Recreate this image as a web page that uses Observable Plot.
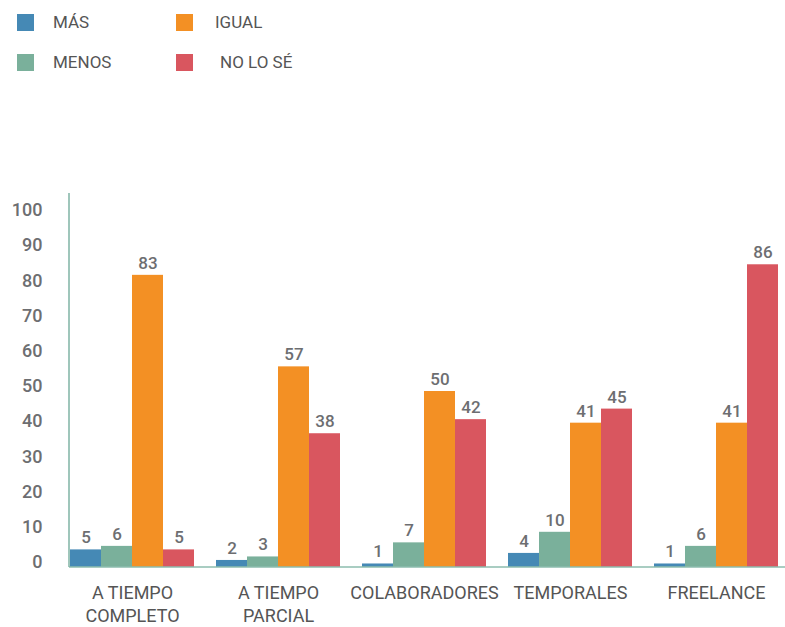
<!DOCTYPE html>
<html><head><meta charset="utf-8">
<script src="https://cdn.jsdelivr.net/npm/d3@7"></script>
<script src="https://cdn.jsdelivr.net/npm/@observablehq/plot@0.6"></script>
<style>
body{margin:0;background:#fff;font-family:Roboto, sans-serif;}
#legend{position:relative;height:90px;width:785px;}
.item{position:absolute;display:flex;align-items:center;font-size:17px;color:#555;height:18px;}
.sw{width:17px;height:17px;margin-right:19px;flex:none;}
</style></head><body><div id="legend"></div><div id="chart"></div>
<script>
const categories = ["A TIEMPO COMPLETO", "A TIEMPO PARCIAL", "COLABORADORES", "TEMPORALES", "FREELANCE"];
const categoryLabels = ["A TIEMPO\nCOMPLETO", "A TIEMPO\nPARCIAL", "COLABORADORES", "TEMPORALES", "FREELANCE"];
const series = ["MÁS", "MENOS", "IGUAL", "NO LO SÉ"];
const colors = ["#4589b5", "#7ab09b", "#f39024", "#d9565f"];
const mas = [5, 2, 1, 4, 1];
const menos = [6, 3, 7, 10, 6];
const igual = [83, 57, 50, 41, 41];
const noLoSe = [5, 38, 42, 45, 86];
const yTicks = [0, 10, 20, 30, 40, 50, 60, 70, 80, 90, 100];

const values = [mas, menos, igual, noLoSe];
const data = categories.flatMap((c, i) => series.map((s, j) => ({category: c, series: s, value: values[j][i]})));

// legend
const legend = d3.select("#legend");
series.forEach((s, j) => {
  const it = legend.append("div").attr("class", "item")
    .style("left", (17 + 159 * Math.floor(j / 2)) + "px")
    .style("top", (13 + 40 * (j % 2)) + "px");
  it.append("div").attr("class", "sw").style("background", colors[j])
    .style("margin-right", (j === 2 ? 22 : j === 3 ? 27 : 19) + "px");
  it.append("span").text(s);
});

const chart = Plot.plot({
  width: 785, height: 537,
  marginLeft: 67, marginRight: 4, marginTop: 103, marginBottom: 60,
  fx: {domain: categories, paddingInner: 0.139, paddingOuter: 0, label: null, axis: null},
  x: {domain: series, paddingInner: 0, paddingOuter: 0, axis: null},
  y: {domain: [0, 106.25], axis: null},
  color: {domain: series, range: colors},
  style: {fontFamily: "Roboto, sans-serif", background: "white", overflow: "visible"},
  marks: [
    Plot.barY(data, {fx: "category", x: "series", y: "value", fill: "series"}),
    Plot.text(data, {fx: "category", x: "series", y: "value", text: d => String(d.value), dy: -12, fontSize: 17, fontWeight: 500, fill: "#6d6e71"}),
    Plot.axisFx({anchor: "bottom", tickSize: 0, tickPadding: 16, fontSize: 18, fill: "#555", tickFormat: c => categoryLabels[categories.indexOf(c)], lineHeight: 1.25, label: null}),
    Plot.axisY({ticks: yTicks, tickSize: 0, tickPadding: 27, fontSize: 18, fontWeight: 500, fill: "#6d6e71", label: null, dy: -5})
  ]
});
document.getElementById("chart").appendChild(chart);

// axis lines drawn from the plot's own scales
const fxS = chart.scale("fx"), yS = chart.scale("y");
const svg = d3.select(chart);
const x0 = fxS.apply(categories[0]);
const yBase = yS.apply(0), yTop = yS.apply(yS.domain[1]);
svg.append("line").attr("x1", x0).attr("x2", +chart.getAttribute("width"))
  .attr("y1", yBase).attr("y2", yBase).attr("stroke", "#8dbcae").attr("stroke-width", 1.5);
svg.append("line").attr("x1", x0).attr("x2", x0)
  .attr("y1", yBase).attr("y2", yTop).attr("stroke", "#7fb3a5").attr("stroke-width", 1.5);
</script></body></html>
